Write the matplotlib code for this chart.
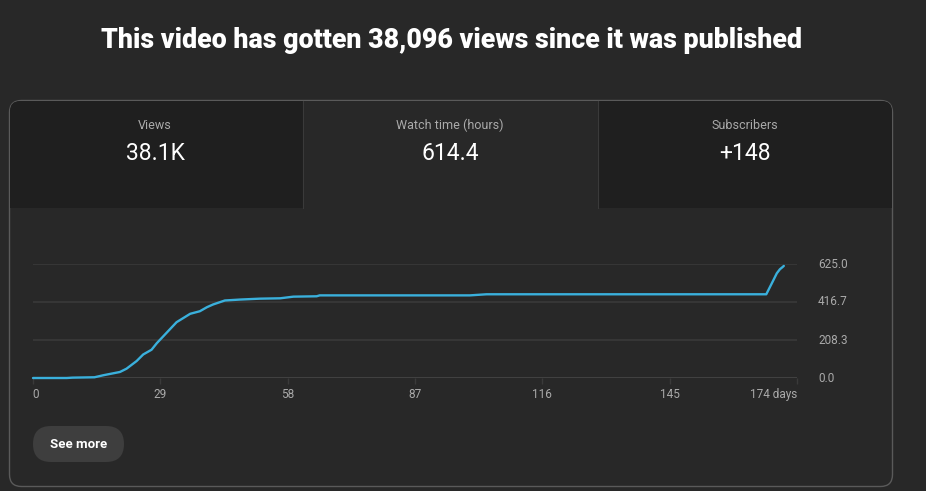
import matplotlib
matplotlib.use("Agg")
import matplotlib.pyplot as plt
from matplotlib.patches import FancyBboxPatch, Rectangle

plt.rcParams['font.family'] = ['Roboto', 'DejaVu Sans']

title = "This video has gotten 38,096 views since it was published"
tile_labels = ["Views", "Watch time (hours)", "Subscribers"]
tile_values = ["38.1K", "614.4", "+148"]

# watch time (hours)
days = [0, 7.7, 9, 14, 16, 19.8, 21.3, 23.6, 25.1, 27, 28.2, 32.7, 35.8, 38,
        39.6, 41, 43.7, 47.1, 51.7, 56.3, 59.3, 64.6, 65.3, 99.5, 103.3, 167,
        168.2, 169.4, 170.1, 170.7, 171]
hours = [0, 0, 2, 4, 15, 33, 51, 93, 129, 155, 191, 306, 352, 366,
         388, 403, 425, 430, 435, 437, 446, 448, 453, 453, 459, 459,
         516, 574, 596, 608, 614.4]
x_ticks = [0, 29, 58, 87, 116, 145, 174]
x_labels = ["0", "29", "58", "87", "116", "145", "174 days"]
y_ticks = [0, 208.3, 416.7, 625.0]

BG = "#282828"
W, H = 926, 491
fig = plt.figure(figsize=(W / 100, H / 100), dpi=100, facecolor=BG)

# full-figure canvas in pixel coords
bg = fig.add_axes([0, 0, 1, 1])
bg.set_xlim(0, W)
bg.set_ylim(H, 0)
bg.axis("off")
bg.set_facecolor(BG)

bg.text(451.5, 40, title, color="white", fontsize=19.3, fontweight="heavy",
        ha="center", va="center")

# card
card = FancyBboxPatch((9.5, 100.5), 883, 386, boxstyle="round,pad=0,rounding_size=12",
                      facecolor=BG, edgecolor="#5a5a5a", linewidth=1)
bg.add_patch(card)

# tiles
tile_x = [10, 303, 598]
tile_w = [293, 295, 294]
tile_c = ["#1f1f1f", "#282828", "#1f1f1f"]
for i in range(3):
    if i == 1:
        r = Rectangle((tile_x[i], 101), tile_w[i], 107, facecolor=tile_c[i], edgecolor="none")
    else:
        r = FancyBboxPatch((tile_x[i], 101), tile_w[i], 107,
                           boxstyle="round,pad=0,rounding_size=10",
                           facecolor=tile_c[i], edgecolor="none")
    bg.add_patch(r)
# square off the inner-bottom corners
bg.add_patch(Rectangle((10, 150), 293, 58, facecolor=tile_c[0], edgecolor="none"))
bg.add_patch(Rectangle((598, 150), 294, 58, facecolor=tile_c[2], edgecolor="none"))
bg.add_patch(Rectangle((30, 101), 273, 20, facecolor=tile_c[0], edgecolor="none"))
bg.add_patch(Rectangle((598, 101), 274, 20, facecolor=tile_c[2], edgecolor="none"))
bg.plot([303, 303], [101, 208], color="#3a3a3a", lw=0.8)
bg.plot([598, 598], [101, 208], color="#3a3a3a", lw=0.8)

centers = [155, 450, 745]
for cx, lab, val in zip(centers, tile_labels, tile_values):
    bg.text(cx, 125, lab, color="#aaaaaa", fontsize=9, ha="center", va="center")
    bg.text(cx, 153, val, color="white", fontsize=16.5, ha="center", va="center")

# See more button
btn = FancyBboxPatch((33, 426), 91, 36, boxstyle="round,pad=0,rounding_size=18",
                     facecolor="#3e3e3e", edgecolor="none")
bg.add_patch(btn)
bg.text(78.5, 444, "See more", color="white", fontsize=9.5, fontweight="bold",
        ha="center", va="center")

# chart
ax = fig.add_axes([33 / W, 1 - 378 / H, 764 / W, 114 / H])
ax.set_facecolor("none")
ax.set_xlim(0, 174)
ax.set_ylim(0, 625)
for y in y_ticks[1:]:
    ax.axhline(y, color="#3a3a3a", lw=1.2, zorder=1)
ax.axhline(0, color="#aaaaaa", lw=1, zorder=2)
ax.plot(days, hours, color="#3ab0dc", lw=1.7, zorder=3, clip_on=False,
        solid_joinstyle="round", solid_capstyle="round")
for s in ax.spines.values():
    s.set_visible(False)
ax.set_yticks([])
ax.set_xticks(x_ticks)
ax.set_xticklabels([])
ax.tick_params(axis="x", length=4, color="#3a3a3a", width=1)
for xt, lab in zip(x_ticks, x_labels):
    ha = "center"
    if xt == 174:
        ha = "right"
    xx = xt + 0.7 if xt == 0 else xt
    ax.text(xx, -88, lab, color="#aaaaaa", fontsize=8.5, ha=ha, va="center",
            clip_on=False)
for yt in y_ticks:
    ax.text(174 + 4.8, yt, "%.1f" % yt, color="#aaaaaa", fontsize=8.5, ha="left",
            va="center", clip_on=False)

fig.savefig("out.png", dpi=100, facecolor=BG)
